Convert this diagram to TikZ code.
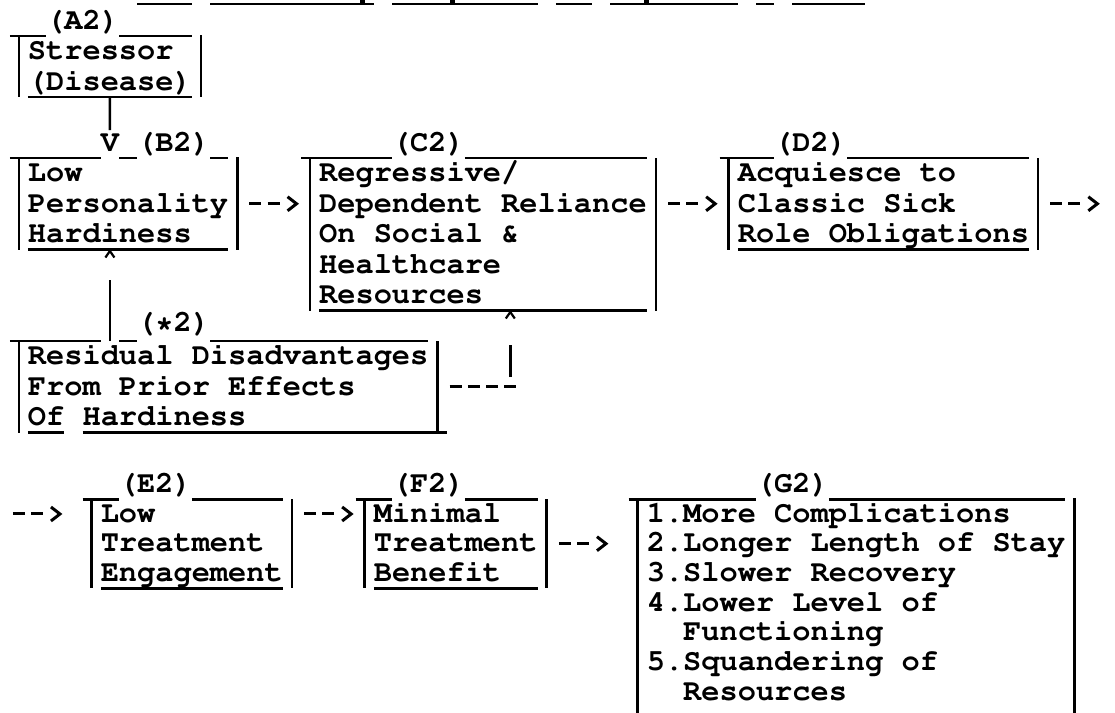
\documentclass[tikz,border=0pt]{standalone}
\usepackage[T1]{fontenc}
\usetikzlibrary{arrows.meta,fit}
% Typed text: Courier bold, 10 characters per inch grid (18.2pt pitch)
\newcommand{\typewriter}{\fontencoding{T1}\fontfamily{pcr}\fontseries{b}\fontshape{n}\fontsize{30.33pt}{30.5pt}\selectfont}
\begin{document}
\begin{tikzpicture}[x=18.2pt, y=-30.5pt,
  tw/.style={anchor=base west, inner sep=0pt, outer sep=0pt, font=\typewriter},
  rule/.style={line width=2.8pt, line cap=butt},
  bar/.style={line width=2.6pt, line cap=butt},
  boxarea/.style={inner sep=0pt, outer sep=0pt},
  typed/.style={line width=3pt, line cap=butt,
    dash pattern=on 12pt off 6.2pt on 12pt off 60pt,
    -{Straight Barb[length=9pt,width=14pt]},
    shorten <=12.1pt, shorten >=11.1pt},
  dashrun/.style={line width=3pt, line cap=butt, dash pattern=on 12pt off 6.2pt, shorten <=12.1pt},
  caret/.style={line width=2.2pt, line join=miter}]

\path[use as bounding box, fill=white] (-9.8pt,29pt) rectangle (1105.2pt,-683pt);

% underline of the heading line above, with the feet of its descenders
\foreach \a/\b in {7/10, 11/20, 21/29, 30/32, 33/40, 41/42, 43/47}
  \draw[rule] (\a,-0.82) -- (\b,-0.82);
\foreach \c in {19.4, 24.35, 35.0}
  \fill (\c,-0.82) ++(-2.5pt,0pt) rectangle ++(5pt,3.5pt);

% ---------- box areas (upper rows) ----------
\node[boxarea, fit={(0.5,0.23) (10.5,2.23)}]   (a2) {};
\node[boxarea, fit={(0.5,4.23) (12.5,7.23)}]   (b2) {};
\node[boxarea, fit={(16.5,4.23) (35.5,9.23)}]  (c2) {};
\node[boxarea, fit={(39.5,4.23) (56.5,7.23)}]  (d2) {};
\node[boxarea, fit={(0.5,10.23) (23.5,13.23)}] (s2) {};

% ---------- A2 ----------
\node[tw] (a2lab) at (2,0) {(A2)};
\node[tw] (a2t1) at (1,1) {Stressor};
\node[tw] (a2t2) at (1,2) {(Disease)};
\draw[rule] (0,0.23) -- (2,0.23);
\draw[rule] (6,0.23) -- (10,0.23);
\draw[bar] (0.5,0.23) -- (0.5,2.23);
\draw[bar] (10.5,0.2) -- (10.5,2.23);
\draw[rule] (1,2.23) -- (10,2.23);

% ---------- B2 ----------
\node[tw] (vhead) at (5,4) {V};
\node[tw] (b2lab) at (7,4) {(B2)};
\node[tw] (b2t1) at (1,5) {Low};
\node[tw] (b2t2) at (1,6) {Personality};
\node[tw] (b2t3) at (1,7) {Hardiness};
\draw[rule] (0,4.23) -- (5,4.23);
\draw[rule] (6,4.23) -- (7,4.23);
\draw[rule] (11,4.23) -- (12,4.23);
\draw[bar] (0.5,4.23) -- (0.5,7.23);
\draw[bar] (12.5,4.2) -- (12.5,7.23);
\draw[rule] (1,7.23) -- (12,7.23);

% ---------- C2 ----------
\node[tw] (c2lab) at (21,4) {(C2)};
\node[tw] (c2t1) at (17,5) {Regressive/};
\node[tw] (c2t2) at (17,6) {Dependent Reliance};
\node[tw] (c2t3) at (17,7) {On Social \&};
\node[tw] (c2t4) at (17,8) {Healthcare};
\node[tw] (c2t5) at (17,9) {Resources};
\draw[rule] (16,4.23) -- (21,4.23);
\draw[rule] (25,4.23) -- (35,4.23);
\draw[bar] (16.5,4.23) -- (16.5,9.23);
\draw[bar] (35.5,4.23) -- (35.5,9.23);
\draw[rule] (17,9.23) -- (35,9.23);

% ---------- D2 ----------
\node[tw] (d2lab) at (42,4) {(D2)};
\node[tw] (d2t1) at (40,5) {Acquiesce to};
\node[tw] (d2t2) at (40,6) {Classic Sick};
\node[tw] (d2t3) at (40,7) {Role Obligations};
\draw[rule] (39,4.23) -- (42,4.23);
\draw[rule] (46,4.23) -- (56,4.23);
\draw[bar] (39.5,4.23) -- (39.5,7.23);
\draw[bar] (56.5,4.23) -- (56.5,7.23);
\draw[rule] (40,7.23) -- (56,7.23);

% ---------- (*2) ----------
\node[tw, yshift=2.5pt] (s2lab) at (7,10) {(*2)};
\node[tw] (s2t1) at (1,11) {Residual Disadvantages};
\node[tw] (s2t2) at (1,12) {From Prior Effects};
\node[tw] (s2t3) at (1,13) {Of Hardiness};
\draw[rule] (0,10.23) -- (5,10.23);
\draw[rule] (6,10.23) -- (7,10.23);
\draw[rule] (11,10.23) -- (23,10.23);
\draw[bar] (0.5,10.23) -- (0.5,13.23);
\draw[bar] (23.5,10.23) -- (23.5,13.23);
\draw[rule] (1,13.23) -- (3,13.23);
\draw[rule] (4,13.23) -- (24,13.23);

% ---------- lower rows (rows counted from the "1." line) ----------
\begin{scope}[shift={(0,16.164)}, yscale=0.97377]
\node[boxarea, fit={(4.5,-0.77) (15.5,2.23)}]  (e2) {};
\node[boxarea, fit={(19.5,-0.77) (29.5,2.23)}] (f2) {};
\node[boxarea, fit={(34.5,-0.77) (58.5,6.7)}]  (g2) {};
\coordinate (ar16) at (0,-0.27);
\coordinate (ar17) at (0,0.73);
\coordinate (e2in) at (0.165,-0.27);

% E2
\node[tw] (e2lab) at (6,-1) {(E2)};
\node[tw] (e2t1) at (5,0) {Low};
\node[tw] (e2t2) at (5,1) {Treatment};
\node[tw] (e2t3) at (5,2) {Engagement};
\draw[rule] (4,-0.77) -- (6,-0.77);
\draw[rule] (10,-0.77) -- (15,-0.77);
\draw[bar] (4.5,-0.77) -- (4.5,2.23);
\draw[bar] (15.5,-0.77) -- (15.5,2.23);
\draw[rule] (5,2.23) -- (15,2.23);

% F2
\node[tw] (f2lab) at (21,-1) {(F2)};
\node[tw] (f2t1) at (20,0) {Minimal};
\node[tw] (f2t2) at (20,1) {Treatment};
\node[tw] (f2t3) at (20,2) {Benefit};
\draw[rule] (19,-0.77) -- (21,-0.77);
\draw[rule] (25,-0.77) -- (29,-0.77);
\draw[bar] (19.5,-0.77) -- (19.5,2.23);
\draw[bar] (29.5,-0.77) -- (29.5,2.23);
\draw[rule] (20,2.23) -- (29,2.23);

% G2
\node[tw] (g2lab) at (41,-1) {(G2)};
\node[tw] (g2t1) at (35,0) {1.More Complications};
\node[tw] (g2t2) at (35,1) {2.Longer Length of Stay};
\node[tw] (g2t3) at (35,2) {3.Slower Recovery};
\node[tw] (g2t4) at (35,3) {4.Lower Level of};
\node[tw] (g2t5) at (37,4) {Functioning};
\node[tw] (g2t6) at (35,5) {5.Squandering of};
\node[tw] (g2t7) at (37,6) {Resources};
\draw[rule] (34,-0.77) -- (41,-0.77);
\draw[rule] (45,-0.77) -- (58,-0.77);
\draw[bar] (34.5,-0.8) -- (34.5,6.7);
\draw[bar] (58.5,-0.8) -- (58.5,6.7);
\end{scope}

% ---------- connectors ----------
\coordinate (ar6) at (0,5.73);
\coordinate (ar12) at (0,11.73);
\coordinate (colB) at (5.5,0);
\coordinate (colC) at (27.5,0);
\coordinate (d2out) at (59.89,5.73);
\coordinate (sjoin) at (27.82,11.73);

% stressor down to B2
\draw[bar, shorten >=4pt] (a2.south) -- (vhead.north);
% left-to-right chain
\draw[typed] (b2.east |- ar6) -- (c2.west |- ar6);
\draw[typed] (c2.east |- ar6) -- (d2.west |- ar6);
\draw[typed, shorten >=0pt] (d2.east |- ar6) -- (d2out);
\draw[typed, shorten <=0pt, shorten >=29.3pt] (e2in) -- (e2.west |- ar16);
\draw[typed] (e2.east |- ar16) -- (f2.west |- ar16);
\draw[typed, shorten >=29.3pt] (f2.east |- ar17) -- (g2.west |- ar17);
% residual box up to B2
\draw[bar, shorten >=30.5pt] (colB |- s2.north) -- (colB |- b2.south);
\draw[caret] (colB |- b2.south) ++(-4.5pt,-8pt) -- ++(4.5pt,6.5pt) -- ++(4.5pt,-6.5pt);
% residual box over to C2
\draw[dashrun] (s2.east |- ar12) -- (sjoin);
\draw[bar] (27.5,11.41) -- (27.5,10.36);
\draw[caret] (colC |- c2.south) ++(-4.5pt,-8pt) -- ++(4.5pt,6.5pt) -- ++(4.5pt,-6.5pt);

\end{tikzpicture}
\end{document}
